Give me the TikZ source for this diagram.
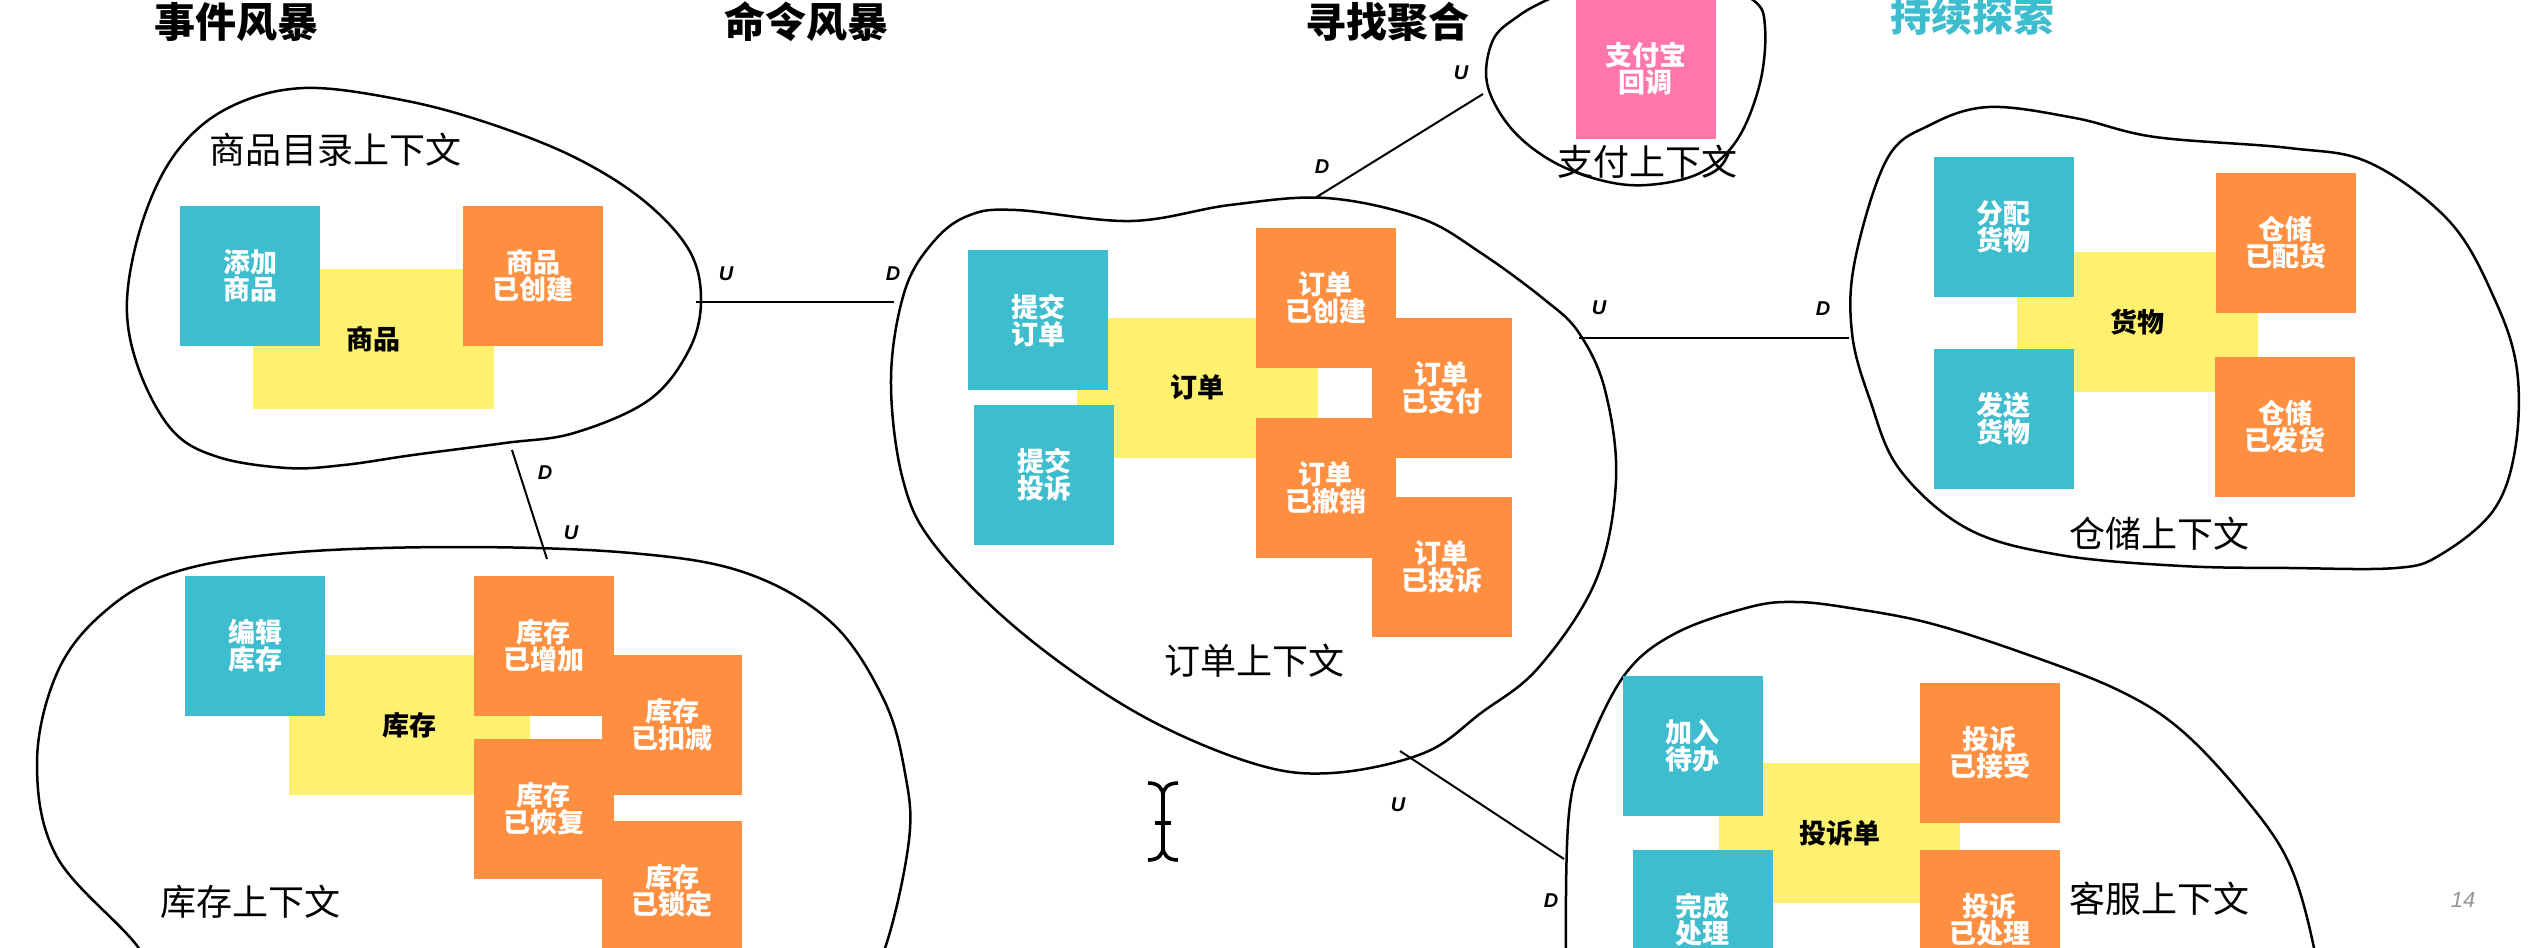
\documentclass[tikz,border=0pt]{standalone}
\usepackage{fontspec}
\setmainfont{Noto Sans CJK SC}
\newfontfamily\latfont{Liberation Sans}
\definecolor{cmdc}{RGB}{61,189,206}
\definecolor{evtc}{RGB}{255,143,64}
\definecolor{aggc}{RGB}{255,241,112}
\definecolor{payc}{RGB}{255,119,170}
\definecolor{numc}{RGB}{150,150,150}
\newcommand\notefont{\fontsize{13.5}{13.5}\selectfont\bfseries}
\newcommand\ctxfont{\fontsize{18}{18}\selectfont}
\newcommand\ttlfont{\fontsize{20.5}{20.5}\selectfont\bfseries}
\newcommand\udfont{\latfont\fontsize{10}{10}\selectfont\bfseries\itshape}
\tikzset{
  note/.style={rectangle, inner sep=0pt, minimum width=70pt, minimum height=70pt, align=center, font=\notefont},
  cmd/.style={note, fill=cmdc, text=white},
  evt/.style={note, fill=evtc, text=white},
  agg/.style={note, fill=aggc, text=black, minimum width=120.5pt},
  pay/.style={note, fill=payc, text=white},
  ctx/.style={font=\ctxfont, inner sep=0pt},
  ttl/.style={font=\ttlfont, inner sep=0pt},
  ud/.style={font=\udfont, inner sep=0pt},
  blob/.style={draw=black, line width=1.25pt},
  link/.style={draw=black, line width=1pt},
}
\begin{document}
\begin{tikzpicture}[x=0.5pt, y=-0.5pt]
\useasboundingbox (0,0) rectangle (2540,948);
\clip (0,0) rectangle (2540,948);
\fill[white] (0,0) rectangle (2540,948);

% titles
\node[ttl] (t1) at (236,22) {事件风暴};
\node[ttl] (t2) at (806,22) {命令风暴};
\node[ttl] (t3) at (1387,22) {寻找聚合};
\node[ttl, text=cmdc] (t4) at (1972,16) {持续探索};

% context boundaries
\draw[blob] plot[smooth cycle, tension=0.6] coordinates {(304,88) (402,100) (488,123) (574,157) (643,200) (689,250) (701,300) (689,350) (649,400) (574,433) (505,443) (413,455) (344,465) (287,468) (218,457) (172,430) (138,367) (127,300) (144,217) (178,150) (230,107)};
\draw[blob] plot[smooth cycle, tension=0.6] coordinates {(459,547) (631,553) (746,573) (832,623) (884,700) (905,773) (909,840) (885,948) (850,1010) (450,1060) (170,1010) (138,947) (57,857) (37,763) (57,673) (103,613) (172,573) (287,553)};
\draw[blob] plot[smooth cycle, tension=0.6] coordinates {(1016,210) (1131,221) (1230,205) (1326,198) (1420,218) (1481,253) (1545,300) (1579,333) (1605,390) (1616,480) (1596,580) (1539,667) (1481,713) (1424,753) (1332,773) (1252,763) (1137,713) (1022,633) (936,547) (903,480) (891,379) (905,290) (935,240) (970,215)};
\draw[blob] plot[smooth cycle, tension=0.6] coordinates {(1487,83) (1493,40) (1517,17) (1547,0) (1600,-22) (1700,-22) (1753,0) (1765,27) (1760,83) (1737,140) (1700,173) (1647,185) (1600,180) (1550,160) (1510,127)};
\draw[blob] plot[smooth cycle, tension=0.6] coordinates {(1989,107) (2075,118) (2155,137) (2289,148) (2370,163) (2450,222) (2495,300) (2517,370) (2515,450) (2493,511) (2440,555) (2396,568) (2290,568) (2182,566) (2060,555) (1968,529) (1900,470) (1870,400) (1852,333) (1855,260) (1887,159) (1930,125)};
\draw[blob] plot[smooth cycle, tension=0.6] coordinates {(1566,960) (1569,813) (1588,747) (1626,673) (1676,633) (1750,607) (1796,602) (1850,608) (1929,623) (2023,653) (2118,690) (2181,730) (2244,797) (2289,863) (2314,948) (2320,1010) (1940,1060) (1570,1010)};

% context labels
\node[ctx] (l1) at (335,150) {商品目录上下文};
\node[ctx] (l2) at (1647,162) {支付上下文};
\node[ctx] (l3) at (1254,661) {订单上下文};
\node[ctx] (l4) at (2159,534) {仓储上下文};
\node[ctx] (l5) at (250,902) {库存上下文};
\node[ctx] (l6) at (2159,899) {客服上下文};

% product context
\node[agg] (pAgg) at (373.5,339) {商品};
\node[cmd] (pCmd) at (250,276) {添加\\商品};
\node[evt] (pEvt) at (533,276) {商品\\已创建};

% inventory context
\node[agg] (iAgg) at (409.5,725) {库存};
\node[cmd] (iCmd) at (255,646) {编辑\\库存};
\node[evt] (iE1) at (543.5,646) {库存\\已增加};
\node[evt] (iE2) at (672,725) {库存\\已扣减};
\node[evt] (iE3) at (543.5,808.5) {库存\\已恢复};
\node[evt] (iE4) at (672,891) {库存\\已锁定};

% order context
\node[agg] (oAgg) at (1197,387.5) {订单};
\node[cmd] (oCmd1) at (1038,320) {提交\\订单};
\node[cmd] (oCmd2) at (1044,475) {提交\\投诉};
\node[evt] (oE1) at (1325.5,298) {订单\\已创建};
\node[evt] (oE2) at (1441.5,387.5) {订单\\已支付};
\node[evt] (oE3) at (1325.5,488) {订单\\已撤销};
\node[evt] (oE4) at (1441.5,567) {订单\\已投诉};

% payment context
\node[pay] (pay) at (1645.5,69) {支付宝\\回调};

% warehouse context
\node[agg] (wAgg) at (2137.5,322) {货物};
\node[cmd] (wCmd1) at (2003.5,227) {分配\\货物};
\node[cmd] (wCmd2) at (2003.5,419) {发送\\货物};
\node[evt] (wE1) at (2285.5,243) {仓储\\已配货};
\node[evt] (wE2) at (2285,426.5) {仓储\\已发货};

% customer service context
\node[agg] (cAgg) at (1839.5,833) {投诉单};
\node[cmd] (cCmd1) at (1692.5,746) {加入\\待办};
\node[cmd] (cCmd2) at (1702.5,920) {完成\\处理};
\node[evt] (cE1) at (1989.5,753) {投诉\\已接受};
\node[evt] (cE2) at (1989.5,920) {投诉\\已处理};

% connectors between contexts
\coordinate (c1a) at (696,302); \coordinate (c1b) at (894,302);
\coordinate (c2a) at (1315,198); \coordinate (c2b) at (1483,94);
\coordinate (c3a) at (1579,338); \coordinate (c3b) at (1849,338);
\coordinate (c4a) at (512,450); \coordinate (c4b) at (547,559);
\coordinate (c5a) at (1400,751); \coordinate (c5b) at (1564,859);
\draw[link] (c1a) -- (c1b);
\draw[link] (c2a) -- (c2b);
\draw[link] (c3a) -- (c3b);
\draw[link] (c4a) -- (c4b);
\draw[link] (c5a) -- (c5b);

\node[ud] (u1) at (726,274) {U};
\node[ud] (d1) at (893,274) {D};
\node[ud] (d2) at (1322,167) {D};
\node[ud] (u2) at (1461,73) {U};
\node[ud] (u3) at (1599,308) {U};
\node[ud] (d3) at (1823,309) {D};
\node[ud] (d4) at (545,473) {D};
\node[ud] (u4) at (571,533) {U};
\node[ud] (u5) at (1398,805) {U};
\node[ud] (d5) at (1551,901) {D};

% page number
\node[font=\latfont\fontsize{11}{11}\selectfont\itshape, text=numc, inner sep=0pt] (pg) at (2463,900) {14};

% text cursor
\draw[line width=2pt] (1163,790) -- (1163,853);
\draw[line width=1.8pt] (1148,783) .. controls (1158,783) and (1163,788) .. (1163,796) .. controls (1163,788) and (1168,783) .. (1178,783);
\draw[line width=1.8pt] (1148,860) .. controls (1158,860) and (1163,855) .. (1163,847) .. controls (1163,855) and (1168,860) .. (1178,860);
\draw[line width=2pt] (1155,823) -- (1171,823);
\end{tikzpicture}
\end{document}
